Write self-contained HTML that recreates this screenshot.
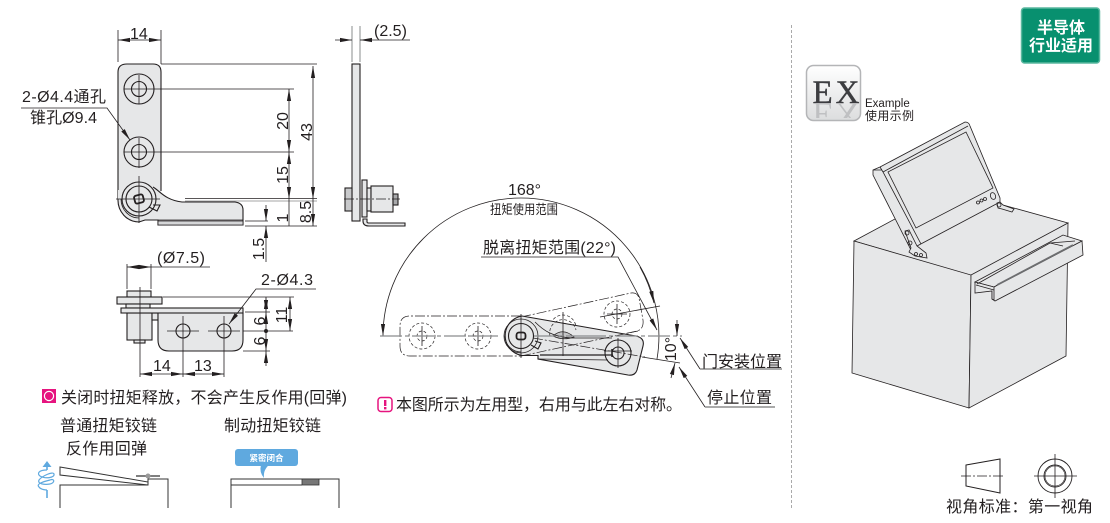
<!DOCTYPE html>
<html><head><meta charset="utf-8"><style>
html,body{margin:0;padding:0;background:#fff;width:1110px;height:523px;overflow:hidden}
svg{display:block}
text{font-family:"Liberation Sans","Noto Sans CJK SC",sans-serif;fill:#231f20;font-size:16px}
.l{stroke:#231f20;stroke-width:.8;fill:none}
.o{stroke:#231f20;stroke-width:1.1;fill:none}
.f{stroke:#231f20;stroke-width:1.1;fill:#e6e7e8}
.t{stroke:#231f20;stroke-width:.8;fill:#e6e7e8}
.n{stroke:#231f20;stroke-width:.8;fill:none}
.g{stroke:#8a8c8e;stroke-width:1;fill:none}
.d{stroke:#231f20;stroke-width:.7;fill:none;stroke-dasharray:3 2}
.dd{stroke:#231f20;stroke-width:.7;fill:none;stroke-dasharray:10 2 2 2}
</style></head><body>
<svg width="1110" height="523" viewBox="0 0 1110 523" xmlns="http://www.w3.org/2000/svg">
<defs>
<marker id="a" viewBox="0 0 12 5" refX="12" refY="2.500" markerWidth="12" markerHeight="5" markerUnits="userSpaceOnUse" orient="auto-start-reverse"><path d="M0 .4L12 2.500L0 4.600z" fill="#231f20"/></marker>
<linearGradient id="ex" x1="0" y1="0" x2="0" y2="1"><stop offset="0" stop-color="#fff"/><stop offset="1" stop-color="#dcddde"/></linearGradient>
<clipPath id="exc"><rect x="808" y="104" width="50" height="14"/></clipPath>
</defs>

<!-- Top-left plate -->
<path d="M118 199V72Q118 64 127 64H153Q161 64 161 72V195H118z" fill="#e6e7e8"/>
<path class="o" d="M118 199V72Q118 64 127 64H153Q161 64 161 72V191"/>
<path d="M153 187C160 191 165 200 182 202H235Q243 203 243 210V225H158V220H145L139 222A21 22 0 0 1 118 199V190H153z" fill="#e6e7e8"/>
<path class="o" d="M153 187C160 191 165 200 182 202H235Q243 203 243 210V225H158V220H145L139 222A21 22 0 0 1 118 199"/>
<path class="l" d="M158 220H243"/>
<path d="M158 221H243V225H158z" fill="#d5d6d8" stroke="#231f20" stroke-width=".8"/>
<circle class="o" cx="139" cy="89" r="15"/><circle class="o" cx="139" cy="89" r="7.5" fill="#fff"/>
<circle class="o" cx="139" cy="152" r="15"/><circle class="o" cx="139" cy="152" r="7.5" fill="#fff"/>
<path class="l" d="M121 199A18 19 0 0 0 139 218"/>
<circle class="o" cx="139" cy="199" r="17"/><circle class="o" cx="139" cy="199" r="13"/>
<rect x="134.500" y="195" width="9" height="8" rx="2" fill="none" stroke="#231f20" stroke-width="1.800" transform="rotate(-15 139 199)"/>
<path class="o" d="M153 205L160 205L157 211L149 207"/>
<path class="l" d="M139 75V104M124 89H158M139 138V168M124 152H158M139 176V223M116 199H160"/>
<path class="l" d="M118 30V62M161 30V64"/>
<path class="l" d="M118 40H161" marker-start="url(#a)" marker-end="url(#a)"/>
<path class="l" d="M161 64H317M158 89H294M158 152H294M185 198.500H317M245 221H268M245 226H317"/>
<path d="M185 201H317" stroke="#888" stroke-width=".8"/>
<path class="l" d="M313 66V199" marker-start="url(#a)" marker-end="url(#a)"/>
<path class="l" d="M289 89V152" marker-start="url(#a)" marker-end="url(#a)"/>
<path class="l" d="M289 152V199" marker-start="url(#a)" marker-end="url(#a)"/>
<path class="l" d="M289 199V226"/>
<path class="l" d="M313 199V226" marker-end="url(#a)"/>
<path class="l" d="M266 205V221" marker-end="url(#a)"/><path class="l" d="M266 262V226" marker-end="url(#a)"/>
<text x="130" y="39">14</text>
<text x="22" y="102" textLength="84">2-Ø4.4通孔</text>
<path class="l" d="M21 108H107L130 140" marker-end="url(#a)"/>
<text x="30" y="123" textLength="67">锥孔Ø9.4</text>
<g text-anchor="middle">
<text transform="translate(288 121) rotate(-90)">20</text>
<text transform="translate(312 132) rotate(-90)">43</text>
<text transform="translate(288 175) rotate(-90)">15</text>
<text transform="translate(288 218) rotate(-90)">1</text>
<text transform="translate(311 212) rotate(-90)">8.5</text>
<text transform="translate(264 249) rotate(-90)">1.5</text>
</g>

<!-- Side view -->
<path class="g" d="M352 26V62M360 26V62"/>
<path class="l" d="M335 40H352" marker-end="url(#a)"/><path class="l" d="M410 40H360" marker-end="url(#a)"/>
<text x="374" y="36">(2.5)</text>
<rect class="f" x="352" y="64" width="8" height="157"/>
<rect class="f" x="345" y="188" width="7" height="23" style="fill:#c8c9cb"/>
<rect class="f" x="362" y="180" width="5" height="37"/>
<rect class="f" x="367" y="188" width="4" height="23"/>
<rect class="f" x="371" y="186" width="22" height="26"/>
<rect class="f" x="393" y="194" width="5" height="11" style="fill:#a8a9ab"/>
<path class="f" d="M363 219H367V222Q367 223 369 223H405V226H369Q363 226 363 221z"/>
<path class="dd" d="M344 199H400"/>

<!-- Bottom-left view -->
<rect class="f" x="127" y="291" width="24" height="6"/>
<rect class="f" x="117" y="297" width="45" height="7"/>
<rect class="f" x="126" y="304" width="24" height="4"/>
<rect class="f" x="127" y="313" width="25" height="27"/>
<rect class="f" x="134" y="340" width="11" height="3"/>
<rect class="f" x="152" y="313" width="6" height="7"/>
<path class="f" d="M158 313H243V340Q243 351 232 351H169Q158 351 158 340z"/>
<rect class="f" x="121" y="308" width="122" height="5"/>
<circle class="o" cx="183" cy="331" r="7" fill="#fff"/><circle class="o" cx="224" cy="331" r="7" fill="#fff"/>
<path class="l" d="M167 331H199M208 331H240M183 316V377M224 316V377M140 287V377"/>
<path class="l" d="M127 264V289M151 264V289"/>
<path class="l" d="M127 267H151" marker-start="url(#a)" marker-end="url(#a)"/>
<path class="l" d="M151 267H210"/>
<text x="157" y="263" textLength="48">(Ø7.5)</text>
<text x="261" y="285" textLength="52">2-Ø4.3</text>
<path class="l" d="M316 289H256L229 324" marker-end="url(#a)"/>
<path class="l" d="M163 297H294M245 312H270M243 331H293M243 351H270"/>
<circle cx="266" cy="331" r="2" fill="#231f20"/>
<path class="l" d="M266 297V312" marker-start="url(#a)" marker-end="url(#a)"/>
<path class="l" d="M266 331V312" marker-end="url(#a)"/>
<path class="l" d="M266 331V351" marker-end="url(#a)"/><path class="l" d="M266 366V351" marker-end="url(#a)"/>
<path class="l" d="M290 297V331" marker-start="url(#a)" marker-end="url(#a)"/>
<path class="l" d="M140 374H183" marker-start="url(#a)" marker-end="url(#a)"/>
<path class="l" d="M183 374H224" marker-start="url(#a)" marker-end="url(#a)"/>
<text x="153" y="371">14</text><text x="194" y="371">13</text>
<g text-anchor="middle">
<text transform="translate(265 321) rotate(-90)">6</text>
<text transform="translate(265 341) rotate(-90)">6</text>
<text transform="translate(287 315) rotate(-90)">11</text>
</g>

<!-- Note 1 -->
<rect x="42" y="389" width="14" height="14" fill="#e6147f"/><circle cx="49" cy="396" r="4.600" fill="none" stroke="#fff" stroke-width="1.200"/>
<text x="61" y="403" textLength="286">关闭时扭矩释放，不会产生反作用(回弹)</text>
<text x="60" y="431" textLength="97">普通扭矩铰链</text>
<text x="66" y="454" textLength="81">反作用回弹</text>
<text x="224" y="431" textLength="97">制动扭矩铰链</text>
<!-- Mini left -->
<path d="M60 508V485H148V479H168V508" fill="none" stroke="#333" stroke-width="1"/>
<path d="M60 467L148 482V485L60 475z" fill="#fff" stroke="#333" stroke-width="1"/>
<path d="M136 476H160" stroke="#555" stroke-width="1.500"/><circle cx="148" cy="476" r="2.500" fill="#999"/>
<path d="M47 498V490M47 470V466" stroke="#5fa9df" stroke-width="1.600" fill="none"/><path d="M42.500 467L47 461L51.500 467z" fill="#5fa9df"/>
<path d="M47 470C38 470 37 474 40 476C45 479 55 478 54 474C53 471 42 476 39 480C37 484 45 485 50 484C55 483 55 478 50 480C42 482 36 484 39 487C41 490 47 490 47 490" fill="none" stroke="#5fa9df" stroke-width="1.200"/>
<!-- Mini right -->
<path d="M231 508V479H339V508M231 485H302" fill="none" stroke="#333" stroke-width="1"/>
<rect x="302" y="479" width="17" height="6" fill="#777" stroke="#333" stroke-width=".8"/>
<rect x="235" y="449" width="63" height="17" rx="3" fill="#5fa9df"/>
<path d="M261 465H269Q263 470 264 478Q259 472 261 465z" fill="#5fa9df"/>
<text x="266.500" y="461" text-anchor="middle" style="font-size:8.500px;font-weight:bold;fill:#fff">紧密闭合</text>

<!-- Center rotation diagram -->
<path class="l" d="M521 198A138 138 0 0 1 657 359"/>
<path class="l" d="M521 198A138 138 0 0 0 383 336" marker-end="url(#a)"/>
<path class="l" d="M640 267A138 138 0 0 1 654 303" marker-end="url(#a)"/>
<text x="508" y="195" textLength="33">168°</text>
<text x="490" y="214" textLength="68" lengthAdjust="spacingAndGlyphs" style="font-size:13px">扭矩使用范围</text>
<text x="483" y="253" textLength="133">脱离扭矩范围(22°)</text>
<path class="l" d="M481 257H618L657 330" marker-end="url(#a)"/>
<path class="dd" d="M521 316H410Q400 316 400 326V346Q400 356 410 356H521"/>
<path class="dd" d="M521 317L631 293Q637 292 639 298L643 320Q644 329 637 331L521 356"/>
<g class="d"><circle cx="422" cy="336" r="13"/><circle cx="422" cy="336" r="5"/><circle cx="478" cy="336" r="13"/><circle cx="478" cy="336" r="5"/><circle cx="563" cy="328" r="13"/><circle cx="563" cy="328" r="5"/><circle cx="617" cy="314" r="13"/><circle cx="617" cy="314" r="5"/></g>
<path class="l" d="M412 336H432M422 326V346M468 336H488M478 326V346M607 314H627M617 304V324"/>
<path class="f" d="M522 316L636 336Q645 338 643 346L637 370Q635 376 628 375L538 359V355.500H522A20 20 0 0 1 522 316z"/>
<path class="d" d="M550 336A13 13 0 0 1 576 330" style="stroke-dasharray:3 2"/>
<path d="M553 336Q563 327 574 337Q563 341 553 336z" fill="#c4c5c7" stroke="#231f20" stroke-width=".8"/>
<path class="l" d="M535 322C543 330 552 337 572 338H612"/>
<path d="M540 355H612" stroke="#231f20" stroke-width="1.200"/>
<path d="M538 359L608 360" stroke="#231f20" stroke-width=".8"/>
<path class="l" d="M505 336A16 16 0 0 0 521 352"/>
<circle class="o" cx="521" cy="336" r="17" style="stroke-width:.8"/><circle class="o" cx="521" cy="336" r="12.500" style="stroke-width:1.100"/>
<rect x="516.500" y="332.500" width="9" height="7" rx="2.500" fill="none" stroke="#231f20" stroke-width="1.800"/>
<path class="o" d="M535 341L541 343L538 349L531 345"/>
<circle class="o" cx="618" cy="353" r="13"/><circle class="o" cx="618" cy="353" r="6" fill="#e6e7e8"/>
<path d="M612 349V357" stroke="#231f20" stroke-width="1.500"/>
<path class="l" d="M618 338V368M604 351H632M521 314V358M563 312V356"/>
<path class="dd" d="M533 338L645 357M521 356L638 331"/>
<path d="M380 336H500M534 336H590M584 336H682" stroke="#8a8c8e" stroke-width="1.300" fill="none" stroke-dasharray="22 3 4 3"/>
<path class="l" d="M600 317L660 306M642 357L680 363"/>
<path class="l" d="M677 320V336" marker-end="url(#a)"/>
<path class="l" d="M671 378L675 363" marker-end="url(#a)"/>
<text text-anchor="middle" transform="translate(676 349) rotate(-90)">10°</text>
<text x="702" y="367" textLength="80">门安装位置</text>
<path class="l" d="M700 369L680 338" marker-end="url(#a)"/>
<path d="M700 369H782" stroke="#555" stroke-width="1"/>
<text x="707" y="403" textLength="65">停止位置</text>
<path class="l" d="M705 407L679 367" marker-end="url(#a)"/>
<path d="M705 407H775" stroke="#555" stroke-width="1"/>
<rect x="378" y="397.500" width="14" height="14" rx="3" fill="#fff" stroke="#e6147f" stroke-width="1.500"/>
<rect x="384" y="400" width="2.400" height="6" fill="#e6147f"/><rect x="384" y="407" width="2.400" height="2.400" fill="#e6147f"/>
<text x="396" y="410" textLength="286">本图所示为左用型，右用与此左右对称。</text>

<!-- Divider -->
<path d="M791.500 25V510" stroke="#aaa" stroke-width="1" stroke-dasharray="3 2"/>

<!-- Badge -->
<rect x="1021.500" y="8" width="78" height="55" rx="3" fill="#08906f" stroke="#5ab79f" stroke-width="1.500"/>
<text x="1061" y="33" text-anchor="middle" style="fill:#fff;font-weight:bold">半导体</text>
<text x="1061" y="51" text-anchor="middle" style="fill:#fff;font-weight:bold">行业适用</text>

<!-- EX -->
<rect x="806.500" y="65.500" width="54" height="55" rx="7" fill="url(#ex)" stroke="#b4b5b7" stroke-width="1.500"/>
<text x="812.500" y="103" style="font-family:'Liberation Serif',serif;font-size:33px;letter-spacing:3px;fill:#3c3d40;stroke:#3c3d40;stroke-width:.4">EX</text>
<g clip-path="url(#exc)"><text x="812.500" y="-103" transform="scale(1 -1)" style="font-family:'Liberation Serif',serif;font-size:33px;letter-spacing:3px;fill:#bfc0c2">EX</text></g>
<text x="865" y="107" style="font-size:11.500px">Example</text>
<text x="865" y="120" textLength="49" style="font-size:12px">使用示例</text>

<!-- Isometric box -->
<path class="t" d="M854 241L949 190L1068 223L972 276z"/>
<path class="t" d="M854 241L971 275L969 408L852 373z"/>
<path class="t" d="M971 275L1068 223L1066 356L969 408z"/>
<!-- Screen -->
<path class="t" d="M873 170L880 167L965 122Q969 122 970 126L1000 198V202L917 246L911 250L873 175z"/>
<path class="n" d="M880 167L883 172L921 244M873 170H882M883 172L968 126"/>
<path class="t" d="M888 172L966 132L993 188L916 228z"/>
<ellipse class="n" cx="993" cy="196" rx="2.500" ry="3.500" transform="rotate(-20 993 196)"/>
<circle class="n" cx="985" cy="199" r="1.500"/><circle class="n" cx="981.500" cy="200.500" r="1.500"/><circle class="n" cx="978" cy="202.500" r="1.500"/>
<!-- Hinges -->
<path class="t" d="M997 203L1000 202L1003 205L1014 209L1012 212L1002 209L998 208z"/><circle class="n" cx="999" cy="205" r="2"/>
<path class="t" d="M905 231L909 230L917 246L926 253L927 258L915 256L909 252L911 248z"/><circle class="n" cx="907" cy="233" r="2"/><circle class="n" cx="910" cy="243" r="2"/><circle class="n" cx="916" cy="254" r="1.500"/><circle class="n" cx="921" cy="255" r="1.500"/>
<!-- Handle -->
<path class="t" d="M975 282L1063 235L1082 241L994 287z"/>
<path class="t" d="M994 287L1082 241L1083 255L995 301L992 299V291z"/>
<path class="t" d="M975 282L994 287L994 300L992 299V291L975 293z"/>
<path d="M997 285L1073 245" stroke="#6d6e70" stroke-width="1.800" fill="none"/>
<path class="n" d="M977 284L1050 243L1063 246M1050 243L1075 241M976 285L994 290"/>
<!-- View symbol -->
<path class="o" d="M966 465L1000 459V493L966 486z" style="stroke-width:1"/>
<path class="dd" d="M961 476H1005"/>
<circle class="o" cx="1055" cy="476" r="17" style="stroke-width:.9"/><circle class="o" cx="1055" cy="476" r="11" style="stroke-width:.9"/><circle class="o" cx="1055" cy="476" r="10" style="stroke-width:.6"/>
<path class="l" d="M1034 476H1077M1055 454V498"/>
<text x="946" y="512" textLength="147">视角标准：第一视角</text>
</svg>
</body></html>
